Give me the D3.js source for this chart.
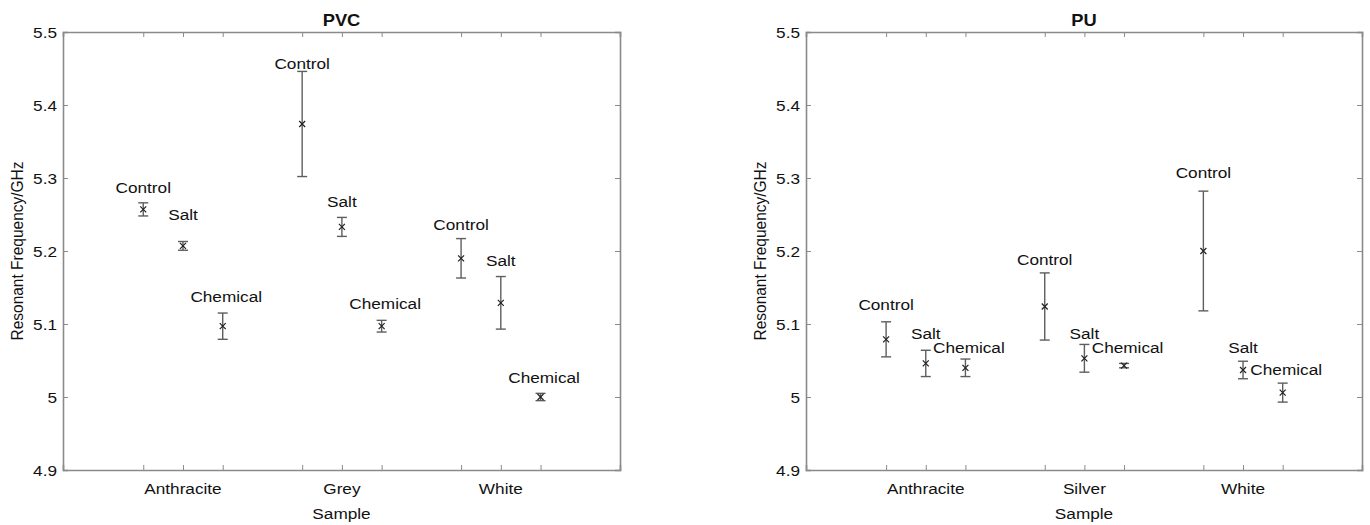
<!DOCTYPE html>
<html><head><meta charset="utf-8">
<script src="https://cdn.jsdelivr.net/npm/d3@7"></script>
<style>
html,body{margin:0;padding:0;background:#fff;}
svg{display:block;}
text{font-family:"Liberation Sans",Arial,sans-serif;fill:#111;}
</style></head>
<body><svg id="c" width="1370" height="525"></svg>
<script>
// ---- data ----
const conditions = ["Control", "Salt", "Chemical"];
const yTicks = [4.9, 5, 5.1, 5.2, 5.3, 5.4, 5.5];

const pvcSamples = ["Anthracite", "Grey", "White"];
const pvcMean = [5.257, 5.207, 5.097, 5.374, 5.233, 5.097, 5.190, 5.129, 5.000];
const pvcErr  = [0.009, 0.006, 0.018, 0.072, 0.013, 0.008, 0.027, 0.036, 0.005];
const pvcLabelY = [5.280, 5.243, 5.130, 5.450, 5.260, 5.120, 5.229, 5.180, 5.019];

const puSamples = ["Anthracite", "Silver", "White"];
const puMean = [5.079, 5.046, 5.040, 5.124, 5.053, 5.043, 5.200, 5.037, 5.006];
const puErr  = [0.024, 0.018, 0.012, 0.046, 0.019, 0.003, 0.082, 0.012, 0.013];
const puLabelY = [5.119, 5.080, 5.060, 5.181, 5.080, 5.060, 5.300, 5.060, 5.030];

const xLabel = "Sample";
const yLabel = "Resonant Frequency/GHz";

// ---- drawing ----
const svg = d3.select("#c");
const SX = 1.11; // horizontal text stretch of the original raster
const axisColor = "#8a8a8a";

function stretched(g, x, y, txt, anchor, opts) {
  const t = g.append("text")
    .attr("transform", `translate(${x},${y}) scale(${SX},1)`)
    .attr("text-anchor", anchor)
    .style("font-size", (opts && opts.size || 15.5) + "px")
    .text(txt);
  if (opts && opts.bold) t.style("font-weight", "bold");
  if (opts && opts.baseline) t.attr("dominant-baseline", opts.baseline);
  return t;
}

function panel(left, right, title, samples, mean, err, labelY) {
  const top = 32, bottom = 470;
  const g = svg.append("g");
  const x = d3.scaleLinear().domain([0.245, 3.75]).range([left, right]);
  const y = d3.scaleLinear().domain([4.9, 5.5]).range([bottom, top]);
  const offs = [-0.25, 0, 0.25];
  const pts = [];
  samples.forEach((s, i) => conditions.forEach((c, j) => {
    const k = i * 3 + j;
    pts.push({xv: i + 1 + offs[j], m: mean[k], e: err[k], label: c, ly: labelY[k]});
  }));
  const xtickVals = pts.map(p => p.xv);

  const xb = d3.axisBottom(x).tickValues(xtickVals).tickSize(-5).tickFormat("");
  const gb = g.append("g").attr("transform", `translate(0,${bottom})`).call(xb);
  const xt = d3.axisTop(x).tickValues(xtickVals).tickSize(-5).tickFormat("");
  const gt = g.append("g").attr("transform", `translate(0,${top})`).call(xt);
  const yl = d3.axisLeft(y).tickValues(yTicks).tickSize(-5).tickFormat("");
  const gl = g.append("g").attr("transform", `translate(${left},0)`).call(yl);
  const yr = d3.axisRight(y).tickValues(yTicks).tickSize(-5).tickFormat("");
  const gr = g.append("g").attr("transform", `translate(${right},0)`).call(yr);
  [gb, gt, gl, gr].forEach(a => {
    a.selectAll("path.domain").attr("stroke", axisColor).attr("stroke-width", 1.6);
    a.selectAll(".tick line").attr("stroke", axisColor).attr("stroke-width", 1);
  });

  yTicks.forEach(v => stretched(g, left - 6, y(v), d3.format("~g")(v), "end", {baseline: "central"}));
  samples.forEach((s, i) => stretched(g, x(i + 1), 494, s, "middle"));

  stretched(g, (left + right) / 2, 519, xLabel, "middle");
  g.append("text")
    .attr("transform", `translate(${left - 40},${(top + bottom) / 2}) rotate(-90) scale(1.0,${SX})`)
    .attr("text-anchor", "middle")
    .style("font-size", "15.5px")
    .text(yLabel);
  stretched(g, (left + right) / 2, 26, title, "middle", {bold: true, size: 16.5});

  const cap = 5;
  const eb = g.selectAll("g.eb").data(pts).enter().append("g").attr("class", "eb");
  eb.append("line").attr("x1", d => x(d.xv)).attr("x2", d => x(d.xv))
    .attr("y1", d => y(d.m + d.e)).attr("y2", d => y(d.m - d.e))
    .attr("stroke", "#5e5e5e").attr("stroke-width", 1.4);
  eb.append("line").attr("x1", d => x(d.xv) - cap).attr("x2", d => x(d.xv) + cap)
    .attr("y1", d => y(d.m + d.e)).attr("y2", d => y(d.m + d.e))
    .attr("stroke", "#5e5e5e").attr("stroke-width", 1.4);
  eb.append("line").attr("x1", d => x(d.xv) - cap).attr("x2", d => x(d.xv) + cap)
    .attr("y1", d => y(d.m - d.e)).attr("y2", d => y(d.m - d.e))
    .attr("stroke", "#5e5e5e").attr("stroke-width", 1.4);
  const ms = 3;
  eb.append("path")
    .attr("d", d => {
      const cx = x(d.xv), cy = y(d.m);
      return `M${cx - ms},${cy - ms}L${cx + ms},${cy + ms}M${cx - ms},${cy + ms}L${cx + ms},${cy - ms}`;
    })
    .attr("stroke", "#222").attr("stroke-width", 1.2).attr("fill", "none");
  pts.forEach(p => stretched(g, x(p.xv) + (p.label === "Chemical" ? 3.5 : 0), y(p.ly), p.label, "middle"));
}

panel(63, 620, "PVC", pvcSamples, pvcMean, pvcErr, pvcLabelY);
panel(806, 1362, "PU", puSamples, puMean, puErr, puLabelY);
</script>
</body></html>
